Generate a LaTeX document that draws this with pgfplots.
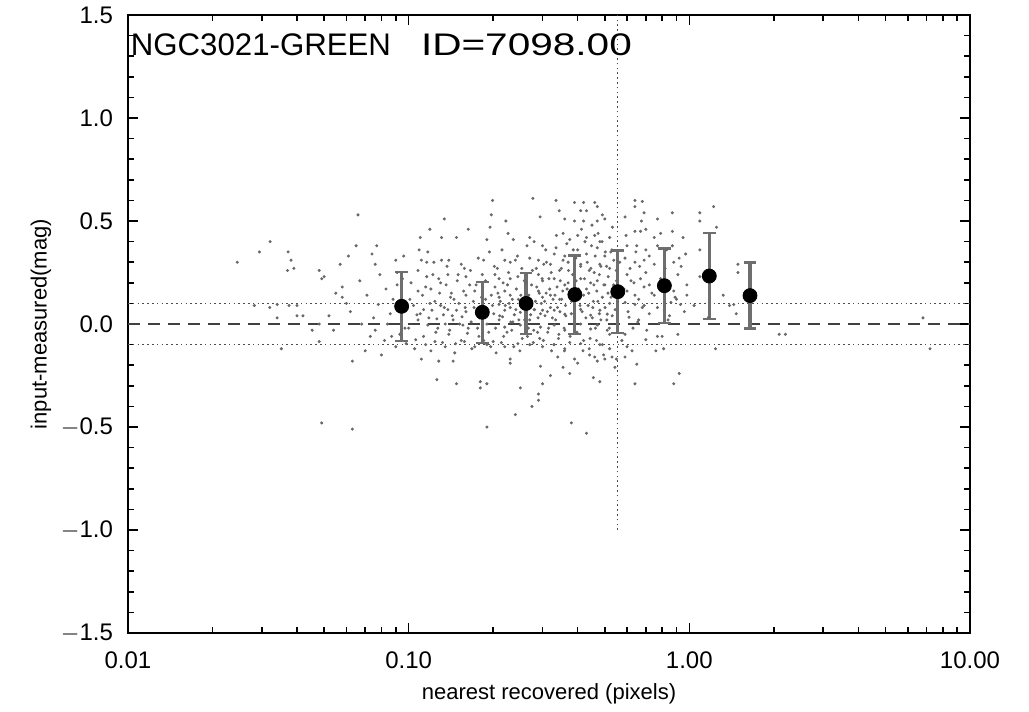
\documentclass[border=0pt]{standalone}
\usepackage{pgfplots}
\pgfplotsset{compat=1.18}
\usepackage{pgfplotstable}
\usepackage{fontspec}
\setmainfont{Liberation Sans}
\definecolor{dotgray}{RGB}{105,105,105}
\definecolor{bargray}{RGB}{110,110,110}

\pgfplotstableread{
x y
0.0245 0.30
0.0294 0.35
0.0321 0.40
0.0372 0.35
0.0381 0.31
0.037 0.26
0.039 0.27
0.0282 0.09
0.032 0.08
0.034 0.095
0.0375 0.09
0.040 0.09
0.034 0.03
0.040 0.04
0.042 0.04
0.0352 -0.12
0.0453 -0.03
0.048 0.26
0.050 0.23
0.049 0.22
0.048 0.0
0.052 0.04
0.054 -0.03
0.048 -0.085
0.049 -0.48
0.063 -0.51
0.055 0.15
0.057 0.29
0.058 0.18
0.058 0.13
0.061 0.33
0.065 0.38
0.066 0.53
0.062 0.06
0.063 -0.18
0.068 0.0
0.073 -0.06
0.070 -0.13
0.074 0.34
0.076 0.29
0.077 0.38
0.076 -0.03
0.078 0.095
0.080 -0.15
0.082 -0.08
0.084 0.0
0.090 0.31
0.091 0.25
0.091 0.19
0.090 -0.11
0.086 0.05
0.088 0.12
0.093 -0.05
0.060 0.10
0.067 0.21
0.071 0.14
0.075 0.03
0.079 0.24
0.083 0.17
0.087 -0.06
0.092 0.08
0.095 0.22
0.097 -0.02
0.199 0.60
0.277 0.61
0.134 0.51
0.119 0.46
0.163 0.46
0.197 0.53
0.195 0.47
0.222 0.50
0.294 0.52
0.110 0.42
0.131 0.42
0.148 0.42
0.190 0.41
0.226 0.44
0.236 0.41
0.270 0.42
0.280 0.40
0.300 0.38
0.109 0.36
0.117 0.35
0.096 0.33
0.111 0.31
0.116 0.30
0.123 0.30
0.131 0.31
0.139 0.31
0.154 0.29
0.158 0.27
0.177 0.32
0.185 0.31
0.215 0.36
0.220 0.31
0.230 0.30
0.240 0.31
0.270 0.32
0.290 0.31
0.310 0.30
0.116 0.23
0.128 0.22
0.138 0.24
0.150 0.24
0.160 0.23
0.203 0.24
0.210 0.22
0.230 0.22
0.245 0.23
0.290 0.24
0.300 0.21
0.108 0.16
0.120 0.17
0.136 0.19
0.142 0.15
0.160 0.14
0.172 0.16
0.203 0.18
0.210 0.13
0.220 0.16
0.230 0.14
0.290 0.16
0.300 0.13
0.104 0.09
0.113 0.07
0.121 0.067
0.130 0.09
0.138 0.07
0.148 0.067
0.159 0.08
0.210 0.095
0.220 0.067
0.230 0.08
0.250 0.057
0.280 0.07
0.300 0.067
0.108 0.02
0.117 -0.005
0.126 0.025
0.135 0.0
0.144 0.02
0.156 -0.005
0.167 0.01
0.190 0.0
0.210 0.02
0.220 -0.015
0.235 0.01
0.250 -0.005
0.270 0.02
0.295 -0.015
0.098 -0.095
0.106 -0.076
0.115 -0.10
0.124 -0.085
0.135 -0.11
0.147 -0.095
0.158 -0.085
0.172 -0.11
0.190 -0.10
0.200 -0.085
0.220 -0.11
0.245 -0.095
0.270 -0.10
0.300 -0.11
0.111 -0.17
0.128 -0.18
0.144 -0.18
0.230 -0.17
0.230 -0.19
0.295 -0.205
0.126 -0.27
0.148 -0.29
0.180 -0.28
0.190 -0.29
0.180 -0.31
0.250 -0.31
0.290 -0.34
0.290 -0.37
0.275 -0.40
0.300 -0.29
0.240 -0.44
0.190 -0.50
0.101 0.12
0.107 0.045
0.112 0.14
0.119 0.10
0.125 -0.04
0.129 0.15
0.133 0.045
0.140 -0.03
0.145 0.12
0.151 0.10
0.155 0.035
0.162 -0.045
0.165 0.19
0.170 0.11
0.175 0.05
0.178 -0.06
0.182 0.13
0.186 0.08
0.188 0.21
0.193 -0.04
0.197 0.14
0.201 0.05
0.205 -0.14
0.207 0.27
0.212 0.11
0.216 0.035
0.218 -0.06
0.225 0.19
0.228 0.10
0.233 -0.03
0.238 0.045
0.242 0.17
0.246 0.12
0.249 -0.13
0.253 0.27
0.256 0.09
0.259 0.02
0.262 0.20
0.265 -0.06
0.268 0.14
0.272 0.045
0.276 0.26
0.279 -0.03
0.283 0.11
0.286 0.18
0.289 0.03
0.293 -0.07
0.297 0.10
0.303 0.29
0.306 0.04
0.309 0.15
0.313 -0.04
0.316 0.22
0.320 0.08
0.323 -0.13
0.327 0.12
0.330 0.34
0.334 0.02
0.338 0.18
0.342 -0.07
0.346 0.06
0.350 0.27
0.354 0.16
0.358 -0.02
0.362 0.09
0.366 0.39
0.370 0.20
0.375 -0.09
0.380 0.05
0.384 0.24
0.389 0.13
0.394 0.32
0.398 -0.04
0.403 0.17
0.408 0.09
0.413 0.46
0.418 -0.13
0.423 0.22
0.428 0.03
0.433 0.30
0.438 0.15
0.443 -0.07
0.448 0.38
0.453 0.08
0.458 0.25
0.463 -0.02
0.468 0.16
0.473 0.44
0.478 0.05
0.484 0.28
0.490 -0.10
0.496 0.19
0.502 0.35
0.508 0.02
0.514 0.23
0.520 -0.05
0.526 0.13
0.532 0.47
0.538 0.31
0.544 0.07
0.550 0.21
0.100 -0.02
0.102 0.20
0.105 -0.12
0.108 0.26
0.110 0.05
0.113 -0.06
0.115 0.18
0.118 0.03
0.120 -0.13
0.122 0.24
0.124 0.11
0.127 -0.02
0.130 0.20
0.132 -0.09
0.134 0.08
0.137 0.28
0.139 -0.05
0.141 0.13
0.143 0.04
0.146 -0.14
0.149 0.21
0.152 0.00
0.154 -0.08
0.157 0.16
0.160 0.06
0.163 -0.02
0.166 0.26
0.168 -0.12
0.171 0.08
0.174 0.19
0.176 -0.02
0.179 0.03
0.183 0.24
0.185 -0.08
0.188 0.12
0.191 0.06
0.194 0.35
0.196 -0.11
0.199 0.09
0.202 0.28
0.204 -0.02
0.208 0.15
0.211 0.04
0.214 -0.09
0.217 0.20
0.221 0.09
0.224 -0.04
0.227 0.25
0.231 0.01
0.234 0.12
0.237 -0.11
0.241 0.07
0.244 0.33
0.247 0.02
0.251 0.14
0.254 -0.07
0.258 0.21
0.261 0.06
0.264 0.38
0.267 -0.02
0.271 0.11
0.274 0.19
0.278 -0.09
0.281 0.07
0.285 0.27
0.288 -0.04
0.292 0.15
0.295 0.05
0.299 0.22
0.302 -0.08
0.305 0.11
0.308 0.36
0.312 0.06
0.315 -0.02
0.318 0.17
0.322 0.25
0.325 0.03
0.329 -0.10
0.332 0.14
0.336 0.43
0.339 0.08
0.343 -0.05
0.347 0.21
0.351 0.12
0.355 0.31
0.359 -0.13
0.363 0.04
0.367 0.17
0.371 0.26
0.376 -0.06
0.381 0.11
0.386 0.36
0.391 0.00
0.395 0.21
0.400 -0.19
0.405 0.13
0.410 0.29
0.415 0.06
0.420 -0.08
0.425 0.40
0.430 0.17
0.436 0.09
0.441 -0.15
0.446 0.27
0.451 0.03
0.457 0.19
0.462 0.33
0.467 -0.08
0.472 0.11
0.478 0.24
0.484 0.02
0.489 0.40
0.495 -0.15
0.501 0.08
0.507 0.28
0.513 0.15
0.519 -0.02
0.525 0.35
0.531 0.04
0.537 0.19
0.543 -0.21
0.549 0.26
0.555 0.11
0.565 0.30
0.575 -0.08
0.585 0.17
0.595 0.43
0.605 0.06
0.615 0.27
0.625 -0.13
0.635 0.20
0.645 0.35
0.655 0.01
0.665 0.28
0.675 0.50
0.690 0.09
0.705 -0.03
0.720 0.33
0.735 0.15
0.750 0.42
0.770 0.08
0.790 0.22
0.810 -0.12
0.830 0.36
0.850 0.04
0.870 0.54
0.890 0.13
0.910 -0.05
0.935 0.28
0.960 0.06
0.335 0.60
0.344 0.55
0.360 0.51
0.390 0.59
0.410 0.55
0.420 0.59
0.430 0.55
0.460 0.59
0.470 0.57
0.490 0.53
0.390 0.50
0.420 0.50
0.450 0.48
0.470 0.50
0.500 0.51
0.355 0.44
0.375 0.41
0.400 0.43
0.430 0.42
0.460 0.43
0.480 0.40
0.520 0.42
0.335 0.37
0.360 0.33
0.400 0.36
0.430 0.34
0.470 0.37
0.500 0.33
0.530 0.36
0.320 0.29
0.345 0.26
0.370 0.30
0.410 0.28
0.440 0.26
0.480 0.29
0.520 0.27
0.330 0.22
0.360 0.19
0.410 0.22
0.445 0.20
0.470 0.21
0.500 0.19
0.320 0.14
0.345 0.12
0.420 0.14
0.455 0.11
0.490 0.13
0.520 0.10
0.330 0.067
0.360 0.048
0.410 0.071
0.445 0.043
0.480 0.067
0.510 0.048
0.330 -0.005
0.360 -0.03
0.410 0.0
0.445 -0.024
0.470 -0.005
0.510 -0.03
0.330 -0.10
0.360 -0.12
0.410 -0.095
0.440 -0.12
0.480 -0.10
0.520 -0.12
0.530 -0.16
0.340 -0.16
0.390 -0.17
0.460 -0.16
0.470 -0.18
0.500 -0.17
0.355 -0.21
0.375 -0.24
0.320 -0.25
0.455 -0.26
0.480 -0.28
0.380 -0.48
0.430 -0.53
0.640 0.60
0.680 0.595
0.690 0.54
0.640 0.57
0.770 0.51
0.590 0.52
0.640 0.45
0.670 0.45
0.700 0.46
0.790 0.44
0.870 0.45
0.600 0.38
0.650 0.38
0.700 0.36
0.770 0.38
0.870 0.38
0.970 0.34
0.590 0.32
0.640 0.30
0.690 0.31
0.750 0.29
0.880 0.30
0.920 0.32
0.600 0.24
0.670 0.22
0.700 0.25
0.720 0.19
0.910 0.24
0.980 0.19
0.600 0.16
0.640 0.14
0.690 0.18
0.880 0.16
0.980 0.14
0.590 0.105
0.640 0.095
0.680 0.08
0.860 0.105
0.930 0.095
1.040 0.09
0.610 0.033
0.660 0.02
0.770 -0.06
0.800 -0.06
0.700 -0.076
0.650 -0.195
0.640 -0.29
0.880 -0.29
0.920 -0.24
0.590 -0.05
0.600 -0.11
0.590 -0.16
0.550 -0.17
0.620 0.21
0.630 -0.02
0.660 0.12
0.720 0.05
0.750 0.14
0.820 0.27
0.840 0.02
0.900 0.12
0.950 0.42
0.760 -0.13
1.090 0.54
1.090 0.50
1.220 0.57
1.250 0.47
1.090 0.36
1.090 0.23
1.320 0.14
1.390 0.09
1.440 0.095
1.470 0.05
1.170 0.033
1.490 0.29
1.490 0.25
1.240 -0.12
2.090 -0.05
2.200 -0.05
6.800 0.03
7.200 -0.12
}\scatterdata

\pgfplotstableread{
x y e
0.0944 0.086 0.167
0.183 0.057 0.148
0.262 0.100 0.148
0.391 0.143 0.190
0.556 0.157 0.200
0.815 0.186 0.180
1.178 0.233 0.210
1.645 0.138 0.160
}\bindata

\begin{document}
\begin{tikzpicture}
\begin{axis}[
  scale only axis,
  width=421pt, height=309pt,
  xmode=log,
  xmin=0.01, xmax=10,
  ymin=-1.5, ymax=1.5,
  xtick={0.01,0.1,1,10},
  xticklabels={0.01,0.10,1.00,10.00},
  ytick={-1.5,-1,-0.5,0,0.5,1,1.5},
  yticklabels={$-$1.5,$-$1.0,$-$0.5,0.0,0.5,1.0,1.5},
  minor ytick={-1.4,-1.3,-1.2,-1.1,-0.9,-0.8,-0.7,-0.6,-0.4,-0.3,-0.2,-0.1,0.1,0.2,0.3,0.4,0.6,0.7,0.8,0.9,1.1,1.2,1.3,1.4},
  tick align=inside,
  major tick length=5pt,
  minor tick length=2.8pt,
  every tick/.style={black, line width=0.8pt},
  axis line style={line width=1.1pt},
  tick label style={font=\fontsize{12}{14}\selectfont},
  xticklabel style={yshift=-6pt},
  yticklabel style={xshift=-4pt},
  /pgf/number format/assume math mode=true,
  xlabel={nearest recovered (pixels)},
  ylabel={input-measured(mag)},
  label style={font=\fontsize{11}{13}\selectfont},
  xlabel style={yshift=-0.5pt},
  ylabel style={yshift=-2pt},
  clip=true,
]
\addplot[only marks, mark=*, mark size=0.55pt, color=dotgray] table[x=x,y=y] {\scatterdata};
\addplot[dashed, dash pattern=on 6pt off 4pt, line width=0.8pt, color=black!75] coordinates {(0.01,0) (10,0)};
\addplot[dash pattern=on 0.8pt off 1.6pt, line width=0.7pt, color=black!70] coordinates {(0.01,0.1) (10,0.1)};
\addplot[dash pattern=on 0.8pt off 1.6pt, line width=0.7pt, color=black!70] coordinates {(0.01,-0.1) (10,-0.1)};
\addplot[dash pattern=on 0.8pt off 1.6pt, line width=0.7pt, color=black!70] coordinates {(0.556,-1.0) (0.556,1.5)};
\addplot[only marks, mark=*, mark size=3.5pt, color=black,
  error bars/.cd, y dir=both, y explicit,
  error bar style={color=bargray, line width=1.6pt},
  error mark options={rotate=90, mark size=3.2pt, line width=1.2pt, color=bargray}]
  table[x=x, y=y, y error=e] {\bindata};
\node[anchor=base west, inner sep=0pt, font=\fontsize{15.6}{17}\selectfont] at (rel axis cs:0.003,0.935) {NGC3021-GREEN\hspace{15pt}\scalebox{1.3}[1]{ID=7098.00}};
\end{axis}
\path (current axis.south west) ++(-64pt,-39pt) rectangle ++(514.5pt,355.5pt);
\end{tikzpicture}
\end{document}
